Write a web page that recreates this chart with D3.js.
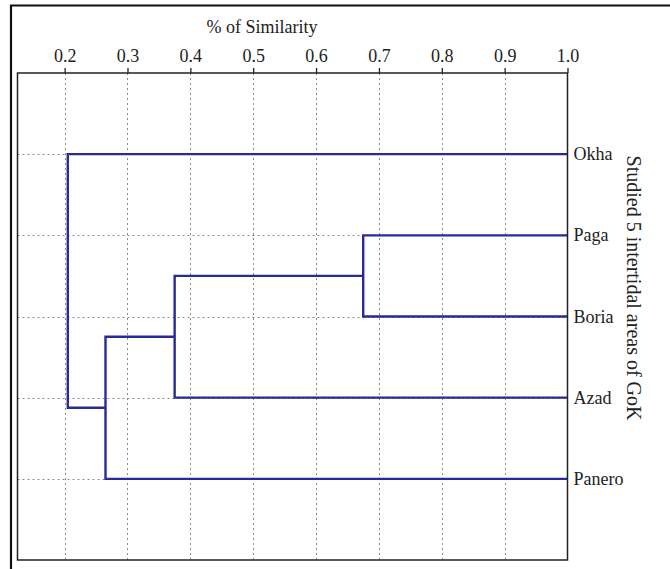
<!DOCTYPE html>
<html>
<head>
<meta charset="utf-8">
<script src="https://cdn.jsdelivr.net/npm/d3@7"></script>
<style>
  html, body { margin: 0; padding: 0; background: #fff; }
  svg { display: block; }
  text { font-family: "Liberation Serif", "Times New Roman", serif; fill: #222; }
</style>
</head>
<body>
<svg id="chart" width="670" height="569"></svg>
<script>
// ---- data ----
const leaves = ["Okha", "Paga", "Boria", "Azad", "Panero"];
const mergeA = ["Paga", "C1", "C2", "Okha"];
const mergeB = ["Boria", "Azad", "Panero", "C3"];
const mergeSim = [0.675, 0.375, 0.265, 0.205];
const tickValues = [0.2, 0.3, 0.4, 0.5, 0.6, 0.7, 0.8, 0.9, 1.0];
const xTitle = "% of Similarity";
const yTitle = "Studied 5 intertidal areas of GoK";

// ---- layout ----
const W = 670, H = 569;
const box = { left: 17.5, top: 73, right: 567.5, bottom: 560 };
const svg = d3.select("#chart");

const x = d3.scaleLinear().domain([0.125, 1.0]).range([box.left, box.right]);
const y = d3.scalePoint().domain(leaves).range([box.top, box.bottom]).padding(1);

// outer frame
svg.append("path")
  .attr("d", `M11,${H} L11,5.5 L${W},5.5`)
  .attr("fill", "none").attr("stroke", "#111").attr("stroke-width", 2.2);

// grid lines
const grid = svg.append("g").attr("stroke", "#8a8a8a").attr("stroke-width", 1)
  .attr("stroke-dasharray", "2,3");
grid.selectAll("line.v").data(tickValues.filter(t => t < 1.0)).join("line")
  .attr("x1", d => Math.round(x(d)) + 0.5).attr("x2", d => Math.round(x(d)) + 0.5)
  .attr("y1", box.top).attr("y2", box.bottom);
grid.selectAll("line.h").data(leaves).join("line")
  .attr("x1", box.left).attr("x2", box.right)
  .attr("y1", d => Math.round(y(d)) + 0.5).attr("y2", d => Math.round(y(d)) + 0.5);

// dendrogram
const pos = {};
leaves.forEach(l => { pos[l] = { x: 1.0, y: y(l) }; });
const links = [];
mergeSim.forEach((s, i) => {
  const a = pos[mergeA[i]], b = pos[mergeB[i]];
  links.push({ a, b, s });
  pos["C" + (i + 1)] = { x: s, y: (a.y + b.y) / 2 };
});
svg.append("g").selectAll("path").data(links).join("path")
  .attr("d", d => `M${x(d.a.x)},${d.a.y} H${x(d.s)} V${d.b.y} H${x(d.b.x)}`)
  .attr("fill", "none").attr("stroke", "#2a2a96").attr("stroke-width", 2.4)
  .attr("stroke-linejoin", "miter");

// inner box
svg.append("rect")
  .attr("x", box.left).attr("y", box.top)
  .attr("width", box.right - box.left).attr("height", box.bottom - box.top)
  .attr("fill", "none").attr("stroke", "#222").attr("stroke-width", 1.5);

// top axis
const axis = d3.axisTop(x).tickValues(tickValues).tickSize(5).tickPadding(6)
  .tickFormat(d3.format(".1f"));
const gA = svg.append("g").attr("transform", `translate(0,${box.top})`).call(axis);
gA.select(".domain").remove();
gA.selectAll(".tick line").attr("stroke", "#222").attr("stroke-width", 1.3);
gA.selectAll(".tick text").attr("font-family", "Liberation Serif, serif")
  .attr("font-size", 18).attr("fill", "#222");

// x title
svg.append("text").attr("x", 262).attr("y", 33).attr("text-anchor", "middle")
  .attr("font-size", 18).text(xTitle);

// leaf labels
svg.append("g").selectAll("text").data(leaves).join("text")
  .attr("x", box.right + 6).attr("y", d => y(d))
  .attr("dominant-baseline", "central").attr("font-size", 18)
  .text(d => d);

// right title
svg.append("text")
  .attr("transform", `translate(634,288) rotate(90)`)
  .attr("text-anchor", "middle").attr("dominant-baseline", "central")
  .attr("font-size", 20).text(yTitle);
</script>
</body>
</html>
